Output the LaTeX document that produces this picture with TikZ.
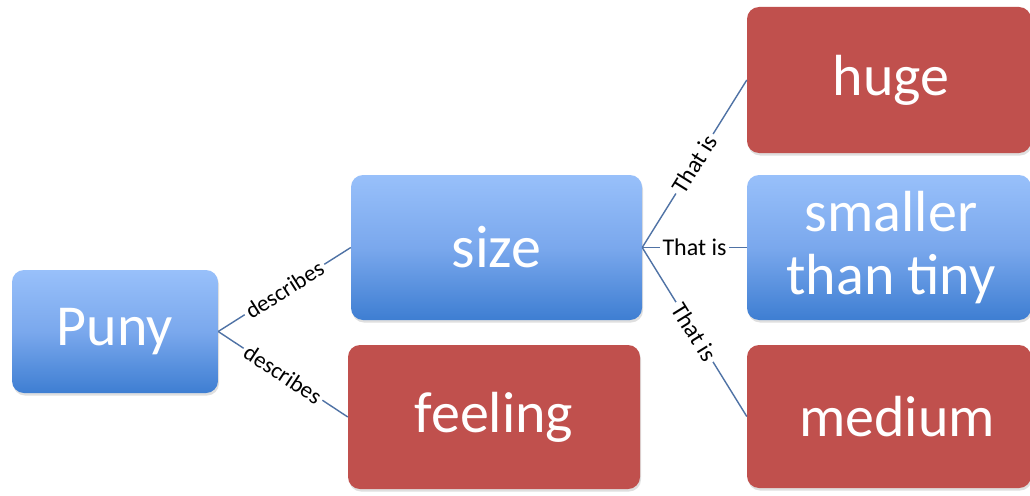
\documentclass[tikz,border=0pt]{standalone}
\usepackage{fontspec}
\setmainfont{Carlito}
\usetikzlibrary{shadows}
\definecolor{boxred}{RGB}{192,80,77}
\definecolor{bluetop}{RGB}{152,192,250}
\definecolor{bluemid}{RGB}{122,168,237}
\definecolor{bluebot}{RGB}{62,126,210}
\definecolor{linkblue}{RGB}{79,114,165}
\begin{document}
\begin{tikzpicture}[x=1pt,y=-1pt,
  box/.style={rounded corners=12pt, text=white, align=center, inner sep=0pt,
    drop shadow={shadow xshift=1pt, shadow yshift=-2.5pt, opacity=0.25}},
  bluebox/.style={box, top color=bluetop, bottom color=bluebot, middle color=bluemid},
  redbox/.style={box, fill=boxred},
  link/.style={draw=linkblue, line width=1.4pt},
  lab/.style={fill=white, text=black, sloped, inner sep=3pt},
  dlab/.style={lab, font=\fontsize{23}{25}\selectfont},
  tlab/.style={lab, font=\fontsize{24}{26}\selectfont},
]
\clip (0,0) rectangle (1030,495);
\useasboundingbox (0,0) rectangle (1030,495);
\fill[white] (0,0) rectangle (1030,495);

\node[bluebox, minimum width=206pt, minimum height=123pt, font=\fontsize{58}{62}\selectfont] (puny) at (115,331.5) {Puny};
\node[bluebox, minimum width=291pt, minimum height=145pt, font=\fontsize{60}{64}\selectfont] (size) at (496.5,247.5) {size};
\node[redbox, minimum width=292pt, minimum height=144pt, font=\fontsize{58}{62}\selectfont] (feeling) at (494,417) {feeling};
\node[redbox, minimum width=284pt, minimum height=146pt, font=\fontsize{58}{62}\selectfont] (huge) at (889,80) {\hspace*{4pt}huge};
\node[bluebox, minimum width=284pt, minimum height=145pt, font=\fontsize{58}{63}\selectfont] (smaller) at (889,247.5) {\hspace*{4pt}smaller\\\hspace*{4pt}than tiny};
\node[redbox, minimum width=284pt, minimum height=143pt, font=\fontsize{58}{62}\selectfont] (medium) at (889,416.5) {\hspace*{16pt}medium};

\draw[link] (puny.east) -- node[dlab]{describes} (size.west);
\draw[link] (puny.east) -- node[dlab]{describes} (feeling.west);
\draw[link] (size.east) -- node[tlab]{That is} (huge.west);
\draw[link] (size.east) -- node[tlab]{That is} (smaller.west);
\draw[link] (size.east) -- node[tlab]{That is} (medium.west);
\end{tikzpicture}
\end{document}
